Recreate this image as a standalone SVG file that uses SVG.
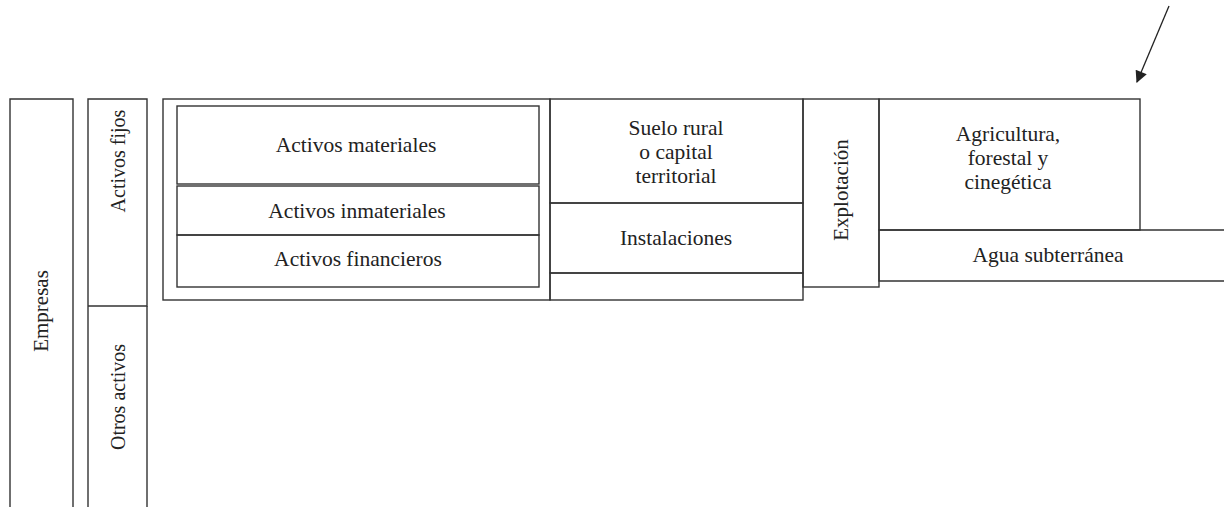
<svg xmlns="http://www.w3.org/2000/svg" width="1224" height="507" viewBox="0 0 1224 507">
<style>
.b{fill:none;stroke:#333;stroke-width:1.4}
.t{font-family:"Liberation Serif","Times New Roman",serif;font-size:21.5px;fill:#222;text-anchor:middle}
.v{font-family:"Liberation Serif","Times New Roman",serif;font-size:21px;fill:#222;text-anchor:middle;dominant-baseline:central}
.s{font-size:20px}
</style>
<defs>
<marker id="ah" viewBox="0 0 10 10" refX="9" refY="5" markerWidth="13" markerHeight="12" markerUnits="userSpaceOnUse" orient="auto">
<path d="M0,0 L10,5 L0,10 z" fill="#222"/>
</marker>
</defs>
<rect width="1224" height="507" fill="#fff"/>
<g id="empresas">
<path class="b" d="M10,507 V99 H73 V507"/>
<text class="v" transform="translate(41,311) rotate(-90)">Empresas</text>
</g>
<g id="activos-fijos">
<path class="b" d="M88,306 V99 H147 V306 H88"/>
<text class="v s" transform="translate(118,161) rotate(-90)">Activos fijos</text>
</g>
<g id="otros-activos">
<path class="b" d="M88,507 V306 M147,306 V507"/>
<text class="v s" transform="translate(118,397) rotate(-90)">Otros activos</text>
</g>
<g id="grupo-activos">
<rect class="b" x="163" y="99" width="387" height="201"/>
</g>
<g id="activos-materiales">
<rect class="b" x="177" y="106" width="362" height="78"/>
<text class="t" x="356" y="152">Activos materiales</text>
</g>
<g id="activos-inmateriales">
<rect class="b" x="177" y="186" width="362" height="49"/>
<text class="t" x="357" y="218">Activos inmateriales</text>
</g>
<g id="activos-financieros">
<rect class="b" x="177" y="235" width="362" height="52"/>
<text class="t" x="358" y="266">Activos financieros</text>
</g>
<g id="suelo-rural">
<rect class="b" x="550" y="99" width="253" height="104"/>
<text class="t" x="676" y="135">Suelo rural</text>
<text class="t" x="676" y="159">o capital</text>
<text class="t" x="676" y="183">territorial</text>
</g>
<g id="instalaciones">
<rect class="b" x="550" y="203" width="253" height="70"/>
<text class="t" x="676" y="245">Instalaciones</text>
</g>
<g id="vacio">
<rect class="b" x="550" y="273" width="253" height="27"/>
</g>
<g id="explotacion">
<rect class="b" x="803" y="99" width="76" height="188"/>
<text class="v" transform="translate(841,190) rotate(-90)">Explotación</text>
</g>
<g id="agricultura">
<rect class="b" x="879" y="99" width="261" height="131"/>
<text class="t" x="1008" y="141">Agricultura,</text>
<text class="t" x="1008" y="165">forestal y</text>
<text class="t" x="1008" y="189">cinegética</text>
</g>
<g id="agua">
<path class="b" d="M1224,230 H879 V281 H1224"/>
<text class="t" x="1048" y="262">Agua subterránea</text>
</g>
<g id="connectors">
<line x1="1169" y1="6" x2="1137" y2="82" stroke="#222" stroke-width="1.3" marker-end="url(#ah)"/>
</g>
</svg>
